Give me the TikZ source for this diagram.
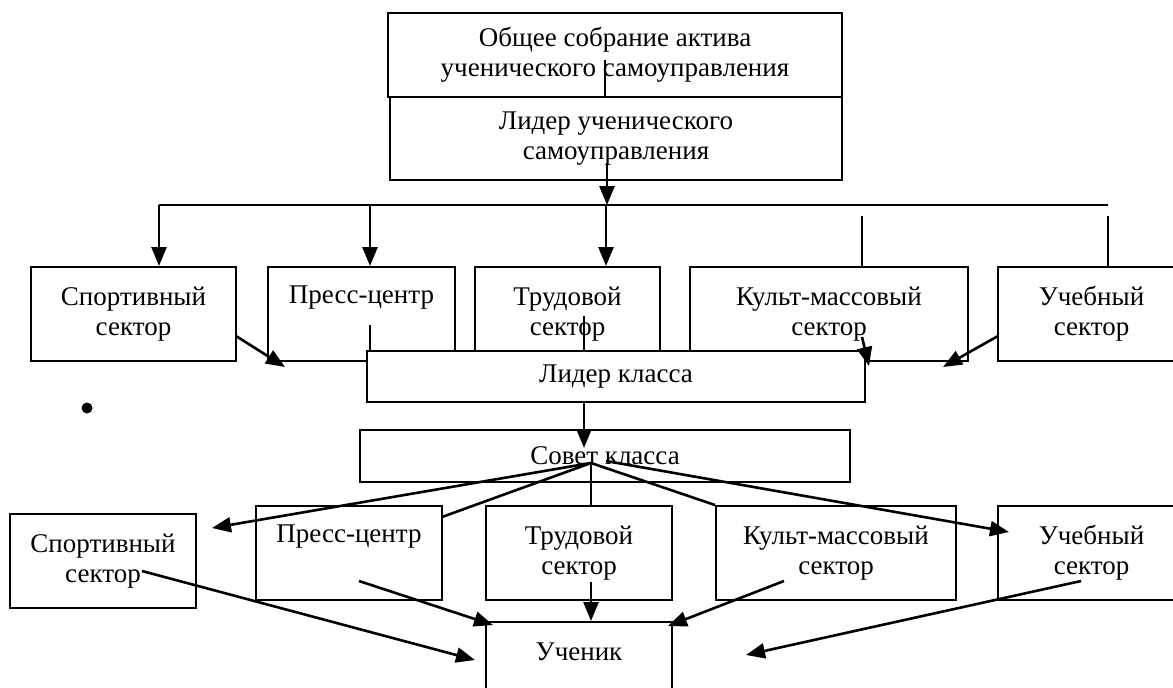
\documentclass[tikz,border=0pt]{standalone}
\usepackage{fontspec}
\setmainfont{Liberation Serif}
\usetikzlibrary{arrows.meta,calc}
\begin{document}
\begin{tikzpicture}[x=1pt,y=-1pt,
  box/.style={draw, line width=2pt, fill=white, inner sep=0pt, align=center,
    font=\fontsize{27}{30}\selectfont},
  conn/.style={line width=2.6pt},
  arr/.style={conn, -{Triangle[length=19pt,width=15pt]}}]
\useasboundingbox (0,0) rectangle (1173,688);

% top level
\node[box, minimum width=454pt, minimum height=84pt] (top) at (615,55)
  {\raisebox{-4pt}{\begin{tabular}{@{}c@{}}Общее собрание актива\\ученического самоуправления\end{tabular}}};
\node[box, minimum width=452pt, minimum height=83pt] (lidu) at (616,138.5)
  {\raisebox{-2pt}{\begin{tabular}{@{}c@{}}Лидер ученического\\самоуправления\end{tabular}}};

% upper row of sectors
\node[box, minimum width=205pt, minimum height=94pt] (s1) at (133.5,314) {Спортивный\\сектор};
\node[box, minimum width=187pt, minimum height=94pt] (p1) at (361.5,314) {Пресс-центр\\\strut};
\node[box, minimum width=185pt, minimum height=94pt] (t1) at (567.5,314) {Трудовой\\сектор};
\node[box, minimum width=278pt, minimum height=94pt] (k1) at (829,314) {Культ-массовый\\сектор};
\node[box, minimum width=187pt, minimum height=94pt] (u1) at (1091.5,314) {Учебный\\сектор};

% class leader and class council
\node[box, minimum width=498pt, minimum height=51pt] (lk) at (616,376.5) {Лидер класса};
\node[box, minimum width=490pt, minimum height=52pt] (sk) at (605,456) {Совет класса};

% lower row of sectors
\node[box, minimum width=186pt, minimum height=94pt] (s2) at (103,561) {Спортивный\\сектор};
\node[box, minimum width=186pt, minimum height=94pt] (p2) at (349,553) {Пресс-центр\\\strut};
\node[box, minimum width=186pt, minimum height=94pt] (t2) at (579,553) {Трудовой\\сектор};
\node[box, minimum width=240pt, minimum height=94pt] (k2) at (836,553) {Культ-массовый\\сектор};
\node[box, minimum width=187pt, minimum height=94pt] (u2) at (1091.5,553) {Учебный\\сектор};

% pupil
\node[box, minimum width=186pt, minimum height=98pt] (uch) at (579,671) {Ученик\\\strut};

% bullet
\node[circle, fill=black, minimum size=11pt, inner sep=0pt] (dot) at (87,408) {};

% connectors: top part
\coordinate (a1s) at (605,60);
\draw[conn] (a1s) -- (a1s |- top.south);
\coordinate (a2s) at (607,163);
\coordinate (busL) at (159,205);
\coordinate (busR) at (1108,205);
\draw[conn] (busL) -- (busR);
\draw[arr] (a2s) -- (a2s |- busL);
\draw[arr] (busL) -- (busL |- s1.north);
\coordinate (b2) at (370,205);
\draw[arr] (b2) -- (b2 |- p1.north);
\coordinate (b3) at (606,205);
\draw[arr] (b3) -- (b3 |- t1.north);
\coordinate (b4) at (862,216);
\draw[conn] (b4) -- (b4 |- k1.north);
\coordinate (b5) at (1108,216);
\draw[conn] (b5) -- (b5 |- u1.north);

% upper sectors to class leader
\coordinate (s1o) at (236,336);
\coordinate (e1) at (285,367);
\draw[arr] (s1o) -- (e1);
\coordinate (p1o) at (370,325);
\draw[conn] (p1o) -- (p1o |- lk.north);
\coordinate (t1o) at (584,316);
\draw[conn] (t1o) -- (t1o |- lk.north);
\coordinate (k1o) at (862,337);
\coordinate (e4) at (869,366);
\draw[arr] (k1o) -- (e4);
\coordinate (u1o) at (998,336);
\coordinate (e5) at (943,367);
\draw[arr] (u1o) -- (e5);

% class leader to council
\coordinate (lko) at (584,402);
\coordinate (ske) at (584,448);
\draw[arr] (lko) -- (ske);

% fan from council
\coordinate (fan) at (591,463);
\coordinate (fan2) at (606,461);
\coordinate (f1) at (212,528);
\coordinate (f2) at (442,517);
\coordinate (f5) at (1009,532);
\draw[arr] (fan) -- (f1);
\draw[conn] (fan) -- (f2);
\draw[conn] (fan) -- (fan |- t2.north);
\draw[conn] (fan) -- (k2.north west);
\draw[arr] (fan2) -- (f5);

% lower sectors to pupil
\coordinate (s2o) at (142,571);
\coordinate (g1) at (475,660);
\draw[arr] (s2o) -- (g1);
\coordinate (p2o) at (359,581);
\coordinate (g2) at (493,625);
\draw[arr] (p2o) -- (g2);
\coordinate (t2o) at (591,582);
\draw[arr] (t2o) -- (t2o |- uch.north);
\coordinate (k2o) at (784,581);
\coordinate (g4) at (668,626);
\draw[arr] (k2o) -- (g4);
\coordinate (u2o) at (1081,581);
\coordinate (g5) at (746,655);
\draw[arr] (u2o) -- (g5);
\end{tikzpicture}
\end{document}
